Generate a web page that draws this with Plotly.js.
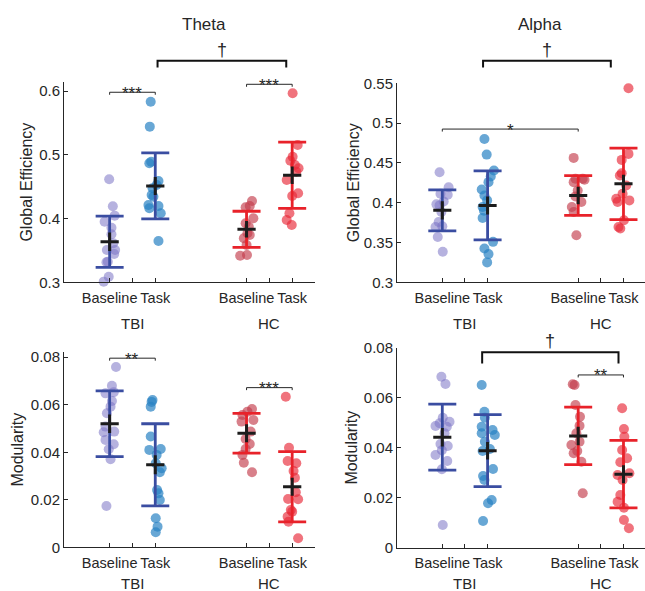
<!DOCTYPE html>
<html><head><meta charset="utf-8">
<script src="https://cdn.plot.ly/plotly-3.0.1.min.js"></script>
<style>html,body{margin:0;padding:0;background:#fff}#chart{width:645px;height:591px}</style>
</head><body><div id="chart"></div>
<script>
// ---------- DATA ----------
const conditionLabels = ['Baseline', 'Task'];
const groupLabels = ['TBI', 'HC'];
const groupPos = [1, 2, 4, 5]; // TBI-Baseline, TBI-Task, HC-Baseline, HC-Task
const bandTitles = ['Theta', 'Alpha'];
const metricTitles = ['Global Efficiency', 'Modularity'];

// Theta - Global Efficiency
const thetaGE_TBI_base   = [0.4617,0.4193,0.4046,0.3951,0.3857,0.3753,0.3612,0.3507,0.3507,0.3444,0.3323,0.3314,0.3088,0.3010];
const thetaGE_TBI_base_x = [0.99,1.07,1.11,0.89,1.04,1.04,1.08,0.94,1.12,1.10,0.96,0.93,0.98,0.87];
const thetaGE_TBI_task   = [0.5835,0.5443,0.4868,0.4893,0.4590,0.4527,0.4475,0.4370,0.4344,0.4214,0.4198,0.4162,0.4083,0.3648];
const thetaGE_TBI_task_x = [1.90,1.88,1.87,1.91,2.07,2.03,1.94,1.92,1.96,1.85,2.07,1.87,2.12,2.07];
const thetaGE_HC_base    = [0.4276,0.4198,0.4177,0.4005,0.3926,0.3873,0.3769,0.3743,0.3691,0.3586,0.3418,0.3429];
const thetaGE_HC_base_x  = [4.12,4.07,3.98,4.15,3.98,4.05,4.02,4.07,3.94,4.00,3.86,4.01];
const thetaGE_HC_task    = [0.5967,0.5155,0.4972,0.4909,0.4841,0.4790,0.4736,0.4606,0.4397,0.4355,0.4083,0.3978,0.3900];
const thetaGE_HC_task_x  = [5.01,5.12,5.01,4.96,5.06,5.14,5.09,4.88,5.13,5.00,4.94,4.88,4.99];
const thetaGE_mean = [0.3637,0.4512,0.3832,0.4680];
const thetaGE_sd   = [0.0403,0.0518,0.0283,0.0520];
const thetaGE_sem  = [0.0144,0.0141,0.0130,0.0138];

// Alpha - Global Efficiency
const alphaGE_TBI_base   = [0.4383,0.4195,0.4113,0.4100,0.4016,0.3979,0.3966,0.3883,0.3758,0.3695,0.3704,0.3570,0.3383];
const alphaGE_TBI_base_x = [0.94,1.14,0.96,1.12,1.03,0.87,0.94,0.98,0.92,0.85,1.00,0.90,1.01];
const alphaGE_TBI_task   = [0.4800,0.4604,0.4404,0.4329,0.4258,0.4166,0.4091,0.4029,0.3945,0.3900,0.3808,0.3508,0.3425,0.3354,0.3250];
const alphaGE_TBI_task_x = [1.93,1.98,2.14,2.07,2.02,1.87,1.93,1.99,1.89,1.92,1.89,2.12,1.93,2.02,1.99];
const alphaGE_HC_base    = [0.4563,0.4300,0.4300,0.4258,0.4288,0.4154,0.4079,0.4008,0.3945,0.3883,0.3591];
const alphaGE_HC_base_x  = [3.90,4.10,3.94,3.90,4.14,3.99,3.94,4.07,3.86,3.90,3.96];
const alphaGE_HC_task    = [0.5437,0.4613,0.4538,0.4370,0.4341,0.4216,0.4113,0.4050,0.4029,0.4008,0.3779,0.3695,0.3675];
const alphaGE_HC_task_x  = [5.11,5.11,4.96,4.96,4.92,5.06,4.98,4.84,5.13,4.87,5.01,4.89,4.93];
const alphaGE_mean = [0.3904,0.3966,0.4091,0.4237];
const alphaGE_sd   = [0.0258,0.0433,0.0250,0.0449];
const alphaGE_sem  = [0.0115,0.0113,0.0110,0.0113];

// Theta - Modularity
const thetaMod_TBI_base   = [0.0759,0.0680,0.0648,0.0653,0.0616,0.0592,0.0564,0.0508,0.0487,0.0484,0.0452,0.0434,0.0413,0.0371,0.0174];
const thetaMod_TBI_base_x = [1.14,1.05,0.91,1.09,1.05,1.02,0.94,0.91,1.10,0.87,0.91,1.09,0.98,1.02,0.93];
const thetaMod_TBI_task   = [0.0620,0.0612,0.0592,0.0466,0.0410,0.0414,0.0389,0.0354,0.0333,0.0316,0.0241,0.0227,0.0199,0.0122,0.0087,0.0063];
const thetaMod_TBI_task_x = [1.94,1.92,1.90,1.90,1.87,2.12,2.03,2.01,2.14,2.10,2.04,2.07,2.10,2.01,2.05,2.01];
const thetaMod_HC_base    = [0.0582,0.0571,0.0557,0.0536,0.0529,0.0487,0.0456,0.0435,0.0414,0.0389,0.0356,0.0316];
const thetaMod_HC_base_x  = [4.12,4.02,3.91,4.15,3.89,4.09,3.98,4.07,3.98,3.91,3.94,4.12];
const thetaMod_HC_task    = [0.0634,0.0419,0.0363,0.0354,0.0321,0.0293,0.0232,0.0203,0.0202,0.0157,0.0150,0.0129,0.0108,0.0038];
const thetaMod_HC_task_x  = [4.86,4.93,4.90,5.09,5.03,5.06,5.08,4.91,5.13,4.97,5.00,4.90,4.92,5.13];
const thetaMod_mean = [0.0520,0.0347,0.0480,0.0255];
const thetaMod_sd   = [0.0138,0.0173,0.0084,0.0148];
const thetaMod_sem  = [0.0039,0.0040,0.0038,0.0038];

// Alpha - Modularity
const alphaMod_TBI_base   = [0.0684,0.0655,0.0520,0.0504,0.0498,0.0487,0.0484,0.0458,0.0415,0.0407,0.0390,0.0371,0.0347,0.0314,0.0091];
const alphaMod_TBI_base_x = [0.98,1.07,1.01,1.16,0.94,0.85,1.10,1.05,0.96,1.12,0.99,0.85,1.11,0.99,1.01];
const alphaMod_TBI_task   = [0.0651,0.0544,0.0520,0.0484,0.0471,0.0458,0.0451,0.0424,0.0395,0.0387,0.0315,0.0287,0.0271,0.0191,0.0178,0.0107];
const alphaMod_TBI_task_x = [1.87,1.93,1.94,1.87,2.11,1.87,2.16,1.94,2.05,1.89,2.12,1.90,1.93,2.09,2.01,1.90];
const alphaMod_HC_base    = [0.0654,0.0651,0.0571,0.0524,0.0488,0.0458,0.0424,0.0411,0.0387,0.0378,0.0344,0.0218];
const alphaMod_HC_base_x  = [3.88,3.92,3.94,4.04,4.03,3.96,4.03,3.85,3.98,3.90,4.07,4.10];
const alphaMod_HC_task    = [0.0558,0.0475,0.0444,0.0391,0.0358,0.0342,0.0291,0.0298,0.0271,0.0211,0.0184,0.0160,0.0111,0.0078];
const alphaMod_HC_task_x  = [4.97,5.01,5.02,4.97,5.08,4.93,4.87,5.13,4.98,4.93,4.87,5.01,5.01,5.12];
const alphaMod_mean = [0.0442,0.0388,0.0447,0.0294];
const alphaMod_sd   = [0.0132,0.0144,0.0115,0.0135];
const alphaMod_sem  = [0.0037,0.0035,0.0037,0.0036];

// Significance brackets: [x0, x1, y, label]
const thetaGE_sig  = [[1, 2, 0.5983, '***'], [4, 5, 0.6108, '***']];
const alphaGE_sig  = [[1, 4, 0.4925, '*']];
const thetaMod_sig = [[1, 2, 0.0796, '**'], [4, 5, 0.0672, '***']];
const alphaMod_sig = [[4, 5, 0.0691, '**']];

// ---------- STYLE / LAYOUT ----------
const W = 645, H = 591;
const FONT = '"Liberation Sans", Arial, sans-serif';
const INK = '#262626';
const pointColors = ['rgba(122,115,197,0.55)', 'rgba(40,130,195,0.7)', 'rgba(195,60,75,0.65)', 'rgba(232,40,55,0.65)'];
const barColors = ['#3a4da1', '#3a4da1', '#e8222a', '#e8222a'];
const crossColor = '#1c1c1c';
const py = p => 1 - p / H;
const pxX = p => p / W;

const panels = [
  {xa:'x',  ya:'y',  xd:[64,315], yd:[282.3,82],  xr:[0,5.5],   yr:[0.3,0.6144], tv:[0.3,0.4,0.5,0.6], tt:['0.3','0.4','0.5','0.6'],
   title:metricTitles[0], standoff:2, labY:[299,323],
   pts:[[thetaGE_TBI_base_x,thetaGE_TBI_base],[thetaGE_TBI_task_x,thetaGE_TBI_task],[thetaGE_HC_base_x,thetaGE_HC_base],[thetaGE_HC_task_x,thetaGE_HC_task]],
   mean:thetaGE_mean, sd:thetaGE_sd, sem:thetaGE_sem, sig:thetaGE_sig},
  {xa:'x2', ya:'y2', xd:[397,645], yd:[282.3,83.3], xr:[0,5.475], yr:[0.3,0.55], tv:[0.3,0.35,0.4,0.45,0.5,0.55], tt:['0.3','0.35','0.4','0.45','0.5','0.55'],
   title:metricTitles[0], standoff:0, labY:[299,323],
   pts:[[alphaGE_TBI_base_x,alphaGE_TBI_base],[alphaGE_TBI_task_x,alphaGE_TBI_task],[alphaGE_HC_base_x,alphaGE_HC_base],[alphaGE_HC_task_x,alphaGE_HC_task]],
   mean:alphaGE_mean, sd:alphaGE_sd, sem:alphaGE_sem, sig:alphaGE_sig},
  {xa:'x3', ya:'y3', xd:[64,315], yd:[547.3,352], xr:[0,5.5],   yr:[0,0.0822], tv:[0,0.02,0.04,0.06,0.08], tt:['0','0.02','0.04','0.06','0.08'],
   title:metricTitles[1], standoff:3, labY:[564,583],
   pts:[[thetaMod_TBI_base_x,thetaMod_TBI_base],[thetaMod_TBI_task_x,thetaMod_TBI_task],[thetaMod_HC_base_x,thetaMod_HC_base],[thetaMod_HC_task_x,thetaMod_HC_task]],
   mean:thetaMod_mean, sd:thetaMod_sd, sem:thetaMod_sem, sig:thetaMod_sig},
  {xa:'x4', ya:'y4', xd:[397,645], yd:[547.7,347.7], xr:[0,5.475], yr:[0,0.08], tv:[0,0.02,0.04,0.06,0.08], tt:['0','0.02','0.04','0.06','0.08'],
   title:metricTitles[1], standoff:2, labY:[564,583],
   pts:[[alphaMod_TBI_base_x,alphaMod_TBI_base],[alphaMod_TBI_task_x,alphaMod_TBI_task],[alphaMod_HC_base_x,alphaMod_HC_base],[alphaMod_HC_task_x,alphaMod_HC_task]],
   mean:alphaMod_mean, sd:alphaMod_sd, sem:alphaMod_sem, sig:alphaMod_sig}
];

// dagger brackets: [panel index, x0, x1, top px, leg bottom px]
const daggerBrackets = [[0, 2.05, 4.87, 60.7, 67.5], [1, 1.9, 4.72, 60.7, 67.5], [3, 1.88, 4.89, 352.3, 363.5]];

const traces = [];
const layout = {
  width: W, height: H, margin: {l:0, r:0, t:0, b:0},
  paper_bgcolor: '#fff', plot_bgcolor: 'rgba(0,0,0,0)',
  showlegend: false, font: {family: FONT, size: 15, color: INK},
  annotations: [], shapes: []
};

panels.forEach((p, i) => {
  const n = i === 0 ? '' : String(i + 1);
  p.pts.forEach((g, k) => {
    traces.push({type:'scatter', mode:'markers', x:g[0], y:g[1], xaxis:p.xa, yaxis:p.ya,
      marker:{size:10, color:pointColors[k], line:{width:0}}, hoverinfo:'y', cliponaxis:false});
  });
  [[0,1],[2,3]].forEach(idx => {
    traces.push({type:'scatter', mode:'markers', x:idx.map(j=>groupPos[j]), y:idx.map(j=>p.mean[j]),
      xaxis:p.xa, yaxis:p.ya, marker:{size:1, opacity:0},
      error_y:{type:'data', array:idx.map(j=>p.sd[j]), visible:true, color:barColors[idx[0]], thickness:2.8, width:14},
      hoverinfo:'skip'});
  });
  traces.push({type:'scatter', mode:'markers', x:groupPos, y:p.mean, xaxis:p.xa, yaxis:p.ya,
    marker:{size:1, opacity:0},
    error_y:{type:'data', array:p.sem, visible:true, color:crossColor, thickness:3, width:0},
    error_x:{type:'constant', value:0.2, visible:true, color:crossColor, thickness:3, width:0},
    hoverinfo:'skip'});

  layout['xaxis' + n] = {
    domain:[pxX(p.xd[0]), pxX(p.xd[1])], range:p.xr, anchor:p.ya, fixedrange:true,
    showline:true, linecolor:INK, linewidth:1, ticks:'inside', ticklen:4, tickcolor:INK,
    tickvals:[1,1.5,2,4,4.5,5], ticktext:[conditionLabels[0],'',conditionLabels[1],conditionLabels[0],'',conditionLabels[1]],
    tickangle:0, tickfont:{size:14.5, color:INK}, ticklabelstandoff:2, showgrid:false, zeroline:false
  };
  layout['yaxis' + n] = {
    domain:[py(p.yd[0]), py(p.yd[1])], range:p.yr, anchor:p.xa, fixedrange:true,
    showline:true, linecolor:INK, linewidth:1, ticks:'inside', ticklen:4, tickcolor:INK,
    tickvals:p.tv, ticktext:p.tt, tickfont:{size:15, color:INK}, showgrid:false, zeroline:false,
    title:{text:p.title, font:{size:16, color:INK}, standoff:p.standoff}
  };
  [1.5, 4.5].forEach((gx, k) => {
    layout.annotations.push({xref:p.xa, yref:'paper', x:gx, y:py(p.labY[1]), text:groupLabels[k],
      showarrow:false, xanchor:'center', yanchor:'middle', font:{size:15, color:INK}});
  });
  const pxPerUnit = (p.yd[0] - p.yd[1]) / (p.yr[1] - p.yr[0]);
  const leg = 2.5 / pxPerUnit;
  p.sig.forEach(s => {
    layout.shapes.push({type:'path', xref:p.xa, yref:p.ya,
      path:`M ${s[0]},${s[2]-leg} L ${s[0]},${s[2]} L ${s[1]},${s[2]} L ${s[1]},${s[2]-leg}`,
      line:{color:INK, width:1}});
    layout.annotations.push({xref:p.xa, yref:p.ya, x:(s[0]+s[1])/2, y:s[2], text:s[3], showarrow:false,
      xanchor:'center', yanchor:'middle', yshift:-1, font:{size:17, color:INK}});
  });
});

layout.annotations.push({xref:'x', yref:'paper', x:3.07, y:py(25), text:bandTitles[0], showarrow:false, yanchor:'middle', font:{size:17, color:INK}});
layout.annotations.push({xref:'x2', yref:'paper', x:3.15, y:py(25), text:bandTitles[1], showarrow:false, yanchor:'middle', font:{size:17, color:INK}});

daggerBrackets.forEach(d => {
  const p = panels[d[0]];
  layout.shapes.push({type:'path', xref:p.xa, yref:'paper',
    path:`M ${d[1]},${py(d[4])} L ${d[1]},${py(d[3])} L ${d[2]},${py(d[3])} L ${d[2]},${py(d[4])}`,
    line:{color:'#111', width:2}});
  layout.annotations.push({xref:p.xa, yref:'paper', x:(d[1]+d[2])/2, y:py(d[3]), text:'†', showarrow:false,
    xanchor:'center', yanchor:'bottom', yshift:-1, font:{size:18, color:INK}});
});

Plotly.newPlot('chart', traces, layout, {staticPlot:true, displayModeBar:false});
</script>
</body></html>
